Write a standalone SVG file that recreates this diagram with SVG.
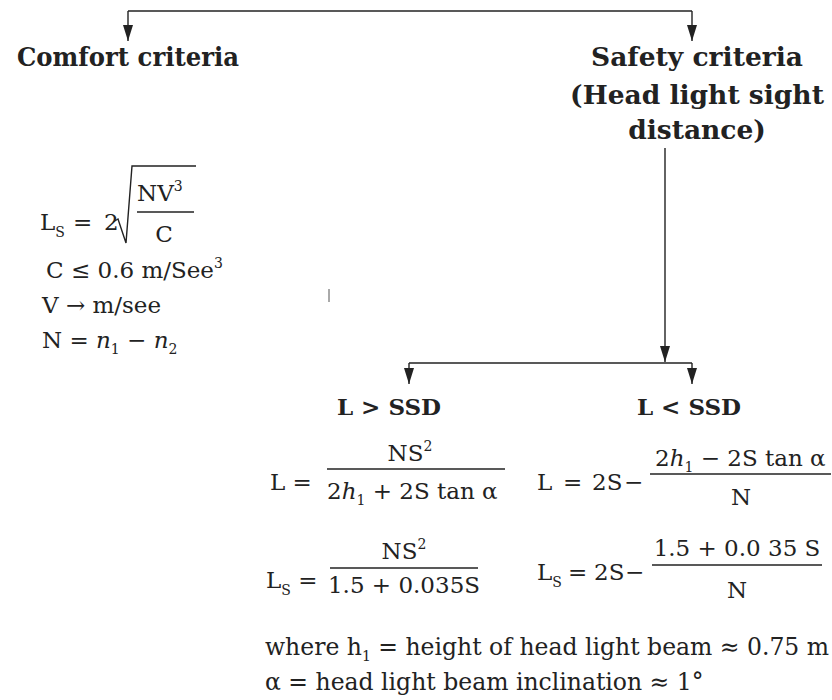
<svg xmlns="http://www.w3.org/2000/svg" width="832" height="700" viewBox="0 0 832 700">
<defs>
<marker id="ah" markerWidth="16" markerHeight="10" refX="16" refY="5" orient="auto" markerUnits="userSpaceOnUse" viewBox="0 0 16 10">
<path d="M0,0 L16,5 L0,10 Z" fill="#222"/>
</marker>
<style>
.h{font-family:"DejaVu Serif","Liberation Serif",serif;font-weight:bold;font-size:26.5px;fill:#222}
.b{font-family:"DejaVu Serif","Liberation Serif",serif;font-size:23px;fill:#222}
.bb{font-family:"DejaVu Serif","Liberation Serif",serif;font-size:23px;font-weight:bold;fill:#222}
.n{font-family:"DejaVu Serif","Liberation Serif",serif;font-size:23.5px;fill:#222}
.s{font-size:14px}
.i{font-style:italic}
.ln{stroke:#222;stroke-width:1.4;fill:none}
.fr{stroke:#222;stroke-width:1.5}
</style>
</defs>
<g id="connectors">
<path class="ln" d="M128,11 H692"/>
<path class="ln" d="M128,11 V41" marker-end="url(#ah)"/>
<path class="ln" d="M692,11 V41" marker-end="url(#ah)"/>
<path class="ln" d="M665,148 V362" marker-end="url(#ah)"/>
<path class="ln" d="M409,363 H692"/>
<path class="ln" d="M409,363 V384" marker-end="url(#ah)"/>
<path class="ln" d="M692,363 V384" marker-end="url(#ah)"/>
<path d="M329,289 V302" stroke="#555" stroke-width="1"/>
</g>
<g id="comfort">
<text class="h" x="17" y="66" textLength="222" lengthAdjust="spacingAndGlyphs">Comfort criteria</text>
</g>
<g id="safety">
<text class="h" x="697" y="66" text-anchor="middle">Safety criteria</text>
<text class="h" x="697" y="104" text-anchor="middle">(Head light sight</text>
<text class="h" x="697" y="139" text-anchor="middle">distance)</text>
</g>
<g id="comfort-formula">
<text class="b" x="40" y="230">L<tspan class="s" dy="7">S</tspan></text>
<text class="b" x="73" y="230">=</text>
<text class="b" x="104" y="230">2</text>
<path class="ln" d="M113,222 L118,219 L126,243 L132,166 H196"/>
<text class="b" x="137" y="201">NV<tspan class="s" dy="-10">3</tspan></text>
<line class="fr" x1="137" y1="212" x2="194" y2="212"/>
<text class="b" x="164" y="242" text-anchor="middle">C</text>
<text class="b" x="46" y="278">C ≤ 0.6 m/See<tspan class="s" dy="-10">3</tspan></text>
<text class="b" x="42" y="313">V → m/see</text>
<text class="b" x="42" y="348">N = <tspan class="i">n</tspan><tspan class="s" dy="6">1</tspan><tspan dy="-6"> − </tspan><tspan class="i">n</tspan><tspan class="s" dy="6">2</tspan></text>
</g>
<g id="l-gt-ssd">
<text class="bb" x="389" y="415" text-anchor="middle">L &gt; SSD</text>
<text class="b" x="270" y="490">L =</text>
<text class="b" x="410" y="461" text-anchor="middle">NS<tspan class="s" dy="-10">2</tspan></text>
<line class="fr" x1="327" y1="469" x2="505" y2="469"/>
<text class="b" x="327" y="499">2<tspan class="i">h</tspan><tspan class="s" dy="6">1</tspan><tspan dy="-6"> + 2S tan α</tspan></text>
<text class="b" x="266" y="588">L<tspan class="s" dy="7">S</tspan><tspan dy="-7"> =</tspan></text>
<text class="b" x="404" y="559" text-anchor="middle">NS<tspan class="s" dy="-10">2</tspan></text>
<line class="fr" x1="330" y1="568" x2="478" y2="568"/>
<text class="b" x="404" y="593" text-anchor="middle">1.5 + 0.035S</text>
</g>
<g id="l-lt-ssd">
<text class="bb" x="689" y="415" text-anchor="middle">L &lt; SSD</text>
<text class="b" x="537" y="490">L</text>
<text class="b" x="563" y="490">=</text>
<text class="b" x="592" y="490">2S</text>
<text class="b" x="624" y="490">−</text>
<text class="b" x="655" y="466">2<tspan class="i">h</tspan><tspan class="s" dy="6">1</tspan><tspan dy="-6"> − 2S tan α</tspan></text>
<line class="fr" x1="650" y1="474" x2="831" y2="474"/>
<text class="b" x="741" y="505" text-anchor="middle">N</text>
<text class="b" x="537" y="580">L<tspan class="s" dy="7">S</tspan></text>
<text class="b" x="568" y="580">=</text>
<text class="b" x="594" y="580">2S</text>
<text class="b" x="625" y="580">−</text>
<text class="b" x="737" y="556" text-anchor="middle">1.5 + 0.0 35 S</text>
<line class="fr" x1="652" y1="565" x2="822" y2="565"/>
<text class="b" x="737" y="598" text-anchor="middle">N</text>
</g>
<g id="notes">
<text class="n" x="265" y="655">where h<tspan class="s" dy="6">1</tspan><tspan dy="-6"> = height of head light beam ≈ 0.75 m</tspan></text>
<text class="n" x="265" y="690">α = head light beam inclination ≈ 1°</text>
</g>
</svg>
